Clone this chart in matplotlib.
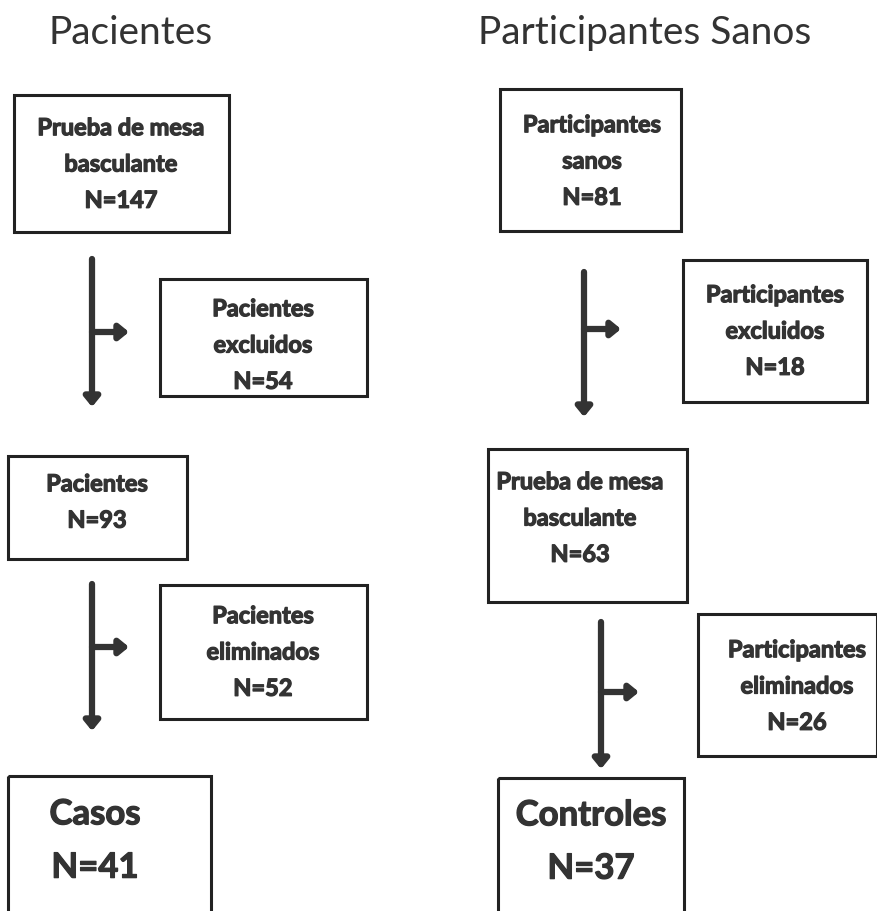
import matplotlib
matplotlib.use("Agg")
import matplotlib.pyplot as plt
from matplotlib.patches import Rectangle
import matplotlib.patheffects as pe

plt.rcParams['font.family'] = ['Lato', 'DejaVu Sans']

# data
titles = ["Pacientes", "Participantes Sanos"]
left_labels = ["Prueba de mesa\nbasculante", "Pacientes\nexcluidos", "Pacientes",
               "Pacientes\neliminados", "Casos"]
left_n = [147, 54, 93, 52, 41]
right_labels = ["Participantes\nsanos", "Participantes\nexcluidos", "Prueba de mesa\nbasculante",
                "Participantes\neliminados", "Controles"]
right_n = [81, 18, 63, 26, 37]

ink = "#333333"
heavy = [pe.withStroke(linewidth=0.9, foreground=ink)]

fig = plt.figure(figsize=(8.77, 9.12), dpi=100)
ax = fig.add_axes([0, 0, 1, 1])
ax.set_xlim(0, 877)
ax.set_ylim(912, 0)
ax.axis('off')


def box(x0, y0, x1, y1, label, n, tx, ty, size=17, big=False):
    ax.add_patch(Rectangle((x0, y0), x1 - x0, y1 - y0, fill=False,
                           edgecolor='#222222', lw=2.2))
    ax.text(tx, ty, f"{label}\nN={n}", ha='center', va='center', fontsize=size,
            fontweight='bold', color=ink, linespacing=1.82 if big else 1.7,
            path_effects=heavy)


def flow(x, y0, y1, yb, xb):
    style = '-|>,head_width=0.45,head_length=0.55'
    ax.annotate('', xy=(x, y1), xytext=(x, y0),
                arrowprops=dict(arrowstyle=style, lw=4.5, color=ink, shrinkA=0, shrinkB=0))
    ax.annotate('', xy=(xb, yb), xytext=(x, yb),
                arrowprops=dict(arrowstyle=style, lw=4.5, color=ink, shrinkA=0, shrinkB=0))


ax.text(131, 33, titles[0], ha='center', va='center', fontsize=28, color=ink)
ax.text(645, 33, titles[1], ha='center', va='center', fontsize=28, color=ink)

# left column
box(14, 96, 229, 233, left_labels[0], left_n[0], 121, 165)
box(160, 280, 367, 397, left_labels[1], left_n[1], 263, 346)
box(8, 457, 187, 560, left_labels[2], left_n[2], 97, 503)
box(160, 586, 367, 720, left_labels[3], left_n[3], 263, 653)
box(8, 777, 211, 930, left_labels[4], left_n[4], 95, 842, size=25, big=True)
flow(92, 260, 408, 333, 129)
flow(92, 585, 732, 648, 129)

# right column
box(500, 90, 681, 232, right_labels[0], right_n[0], 592, 162)
box(683, 261, 867, 403, right_labels[1], right_n[1], 775, 332)
box(488, 450, 687, 603, right_labels[2], right_n[2], 580, 519)
box(698, 615, 877, 757, right_labels[3], right_n[3], 797, 687)
box(498, 779, 684, 930, right_labels[4], right_n[4], 591, 843, size=25, big=True)
flow(584, 273, 418, 330, 621)
flow(601, 623, 770, 693, 639)

fig.savefig("out.png", dpi=100, facecolor='white')
